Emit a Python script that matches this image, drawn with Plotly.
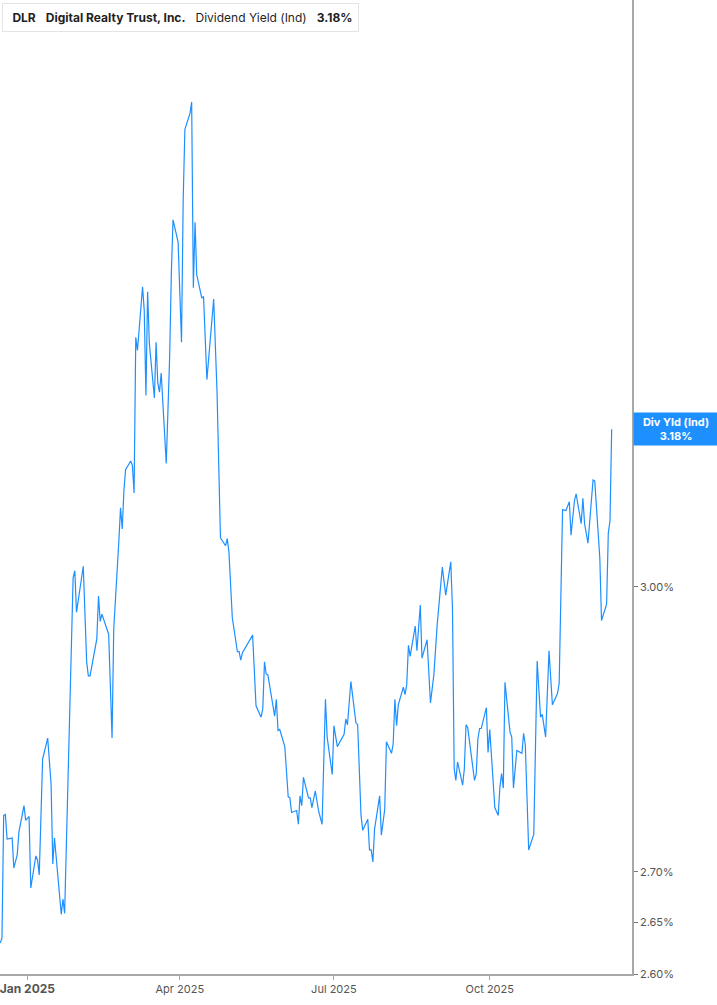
import math
import plotly.graph_objects as go

# DLR indicated dividend yield (%)
dates = [
    "2024-12-16", "2024-12-17", "2024-12-18", "2024-12-19", "2024-12-20", "2024-12-23",
    "2024-12-24", "2024-12-26", "2024-12-27", "2024-12-30", "2024-12-31", "2025-01-02",
    "2025-01-03", "2025-01-06", "2025-01-07", "2025-01-08", "2025-01-10", "2025-01-13",
    "2025-01-15", "2025-01-16", "2025-01-17", "2025-01-21", "2025-01-22", "2025-01-23",
    "2025-01-28", "2025-01-29", "2025-01-30", "2025-01-31", "2025-02-03", "2025-02-05",
    "2025-02-06", "2025-02-07", "2025-02-11", "2025-02-12", "2025-02-13", "2025-02-14",
    "2025-02-18", "2025-02-20", "2025-02-21", "2025-02-24", "2025-02-25", "2025-02-26",
    "2025-02-27", "2025-02-28", "2025-03-03", "2025-03-04", "2025-03-05", "2025-03-06",
    "2025-03-07", "2025-03-10", "2025-03-11", "2025-03-12", "2025-03-13", "2025-03-14",
    "2025-03-16", "2025-03-17", "2025-03-18", "2025-03-19", "2025-03-20", "2025-03-21",
    "2025-03-24", "2025-03-26", "2025-03-27", "2025-03-28", "2025-03-31", "2025-04-02",
    "2025-04-03", "2025-04-04", "2025-04-07", "2025-04-08", "2025-04-09", "2025-04-10",
    "2025-04-11", "2025-04-14", "2025-04-15", "2025-04-17", "2025-04-21", "2025-04-23",
    "2025-04-25", "2025-04-28", "2025-04-29", "2025-04-30", "2025-05-02", "2025-05-05",
    "2025-05-06", "2025-05-07", "2025-05-08", "2025-05-14", "2025-05-16", "2025-05-19",
    "2025-05-20", "2025-05-21", "2025-05-22", "2025-05-23", "2025-05-27", "2025-05-28",
    "2025-05-29", "2025-05-30", "2025-06-02", "2025-06-04", "2025-06-05", "2025-06-06",
    "2025-06-09", "2025-06-10", "2025-06-11", "2025-06-12", "2025-06-13", "2025-06-16",
    "2025-06-17", "2025-06-18", "2025-06-20", "2025-06-22", "2025-06-24", "2025-06-26",
    "2025-06-27", "2025-06-30", "2025-07-01", "2025-07-03", "2025-07-07", "2025-07-08",
    "2025-07-09", "2025-07-11", "2025-07-14", "2025-07-15", "2025-07-17", "2025-07-18",
    "2025-07-21", "2025-07-22", "2025-07-23", "2025-07-24", "2025-07-25", "2025-07-28",
    "2025-07-29", "2025-07-31", "2025-08-01", "2025-08-04", "2025-08-05", "2025-08-06",
    "2025-08-07", "2025-08-08", "2025-08-11", "2025-08-12", "2025-08-13", "2025-08-14",
    "2025-08-15", "2025-08-18", "2025-08-19", "2025-08-21", "2025-08-22", "2025-08-25",
    "2025-08-27", "2025-08-29", "2025-08-31", "2025-09-03", "2025-09-05", "2025-09-08",
    "2025-09-09", "2025-09-10", "2025-09-11", "2025-09-12", "2025-09-15", "2025-09-16",
    "2025-09-17", "2025-09-18", "2025-09-22", "2025-09-23", "2025-09-24", "2025-09-25",
    "2025-09-26", "2025-09-29", "2025-09-30", "2025-10-01", "2025-10-04", "2025-10-06",
    "2025-10-07", "2025-10-08", "2025-10-09", "2025-10-10", "2025-10-13", "2025-10-14",
    "2025-10-15", "2025-10-17", "2025-10-20", "2025-10-21", "2025-10-22", "2025-10-24",
    "2025-10-27", "2025-10-29", "2025-10-31", "2025-11-01", "2025-11-03", "2025-11-05",
    "2025-11-07", "2025-11-10", "2025-11-11", "2025-11-13", "2025-11-15", "2025-11-17",
    "2025-11-18", "2025-11-20", "2025-11-21", "2025-11-24", "2025-11-25", "2025-11-26",
    "2025-11-28", "2025-12-01", "2025-12-02", "2025-12-05", "2025-12-06", "2025-12-09",
    "2025-12-10", "2025-12-11", "2025-12-12",
]

div_yield = [
    2.630, 2.635, 2.757, 2.758, 2.733, 2.734, 2.704, 2.717, 2.740, 2.767, 2.752, 2.756,
    2.684, 2.716, 2.712, 2.697, 2.815, 2.837, 2.789, 2.708, 2.734, 2.658, 2.673, 2.659,
    3.010, 3.018, 2.972, 2.984, 3.023, 2.918, 2.903, 2.903, 2.943, 2.990, 2.962, 2.970,
    2.948, 2.837, 2.954, 3.051, 3.089, 3.065, 3.109, 3.133, 3.143, 3.138, 3.106, 3.290,
    3.274, 3.352, 3.323, 3.220, 3.346, 3.283, 3.242, 3.217, 3.284, 3.235, 3.224, 3.247,
    3.140, 3.266, 3.369, 3.436, 3.408, 3.284, 3.462, 3.553, 3.574, 3.589, 3.351, 3.433,
    3.367, 3.338, 3.340, 3.239, 3.337, 3.223, 3.055, 3.046, 3.054, 3.039, 2.966, 2.929,
    2.929, 2.920, 2.928, 2.947, 2.871, 2.859, 2.868, 2.918, 2.905, 2.904, 2.860, 2.878,
    2.845, 2.846, 2.828, 2.776, 2.775, 2.760, 2.762, 2.748, 2.777, 2.767, 2.796, 2.775,
    2.775, 2.765, 2.782, 2.761, 2.748, 2.878, 2.838, 2.799, 2.850, 2.828, 2.841, 2.857,
    2.851, 2.897, 2.853, 2.851, 2.757, 2.742, 2.753, 2.722, 2.722, 2.710, 2.743, 2.777,
    2.737, 2.763, 2.833, 2.821, 2.831, 2.878, 2.850, 2.872, 2.891, 2.883, 2.894, 2.936,
    2.924, 2.957, 2.930, 2.980, 2.922, 2.942, 2.874, 2.904, 2.959, 3.022, 2.991, 3.028,
    2.976, 2.805, 2.793, 2.812, 2.788, 2.805, 2.851, 2.848, 2.793, 2.799, 2.836, 2.847,
    2.847, 2.869, 2.822, 2.846, 2.765, 2.757, 2.786, 2.800, 2.785, 2.896, 2.843, 2.838,
    2.785, 2.824, 2.821, 2.842, 2.830, 2.722, 2.738, 2.919, 2.859, 2.862, 2.838, 2.930,
    2.872, 2.884, 2.895, 3.087, 3.086, 3.096, 3.058, 3.097, 3.105, 3.071, 3.100, 3.071,
    3.049, 3.121, 3.120, 3.032, 2.963, 2.981, 3.060, 3.074, 3.180,
]

tick_dates = ["2025-01-01", "2025-04-01", "2025-07-01", "2025-10-01"]
tick_names = ["<b><span style='font-size:12px'>Jan 2025</span></b>", "Apr 2025", "Jul 2025", "Oct 2025"]
y_ticks = [2.60, 2.65, 2.70, 3.00]
y_tick_names = ["2.60%", "2.65%", "2.70%", "3.00%"]

blue = "#1e8fff"
last = div_yield[-1]

fig = go.Figure()
fig.add_trace(go.Scatter(x=dates, y=div_yield, mode="lines",
                         line=dict(color=blue, width=1.2), hoverinfo="x+y"))

fig.update_layout(
    width=717, height=1005,
    margin=dict(l=0, r=85, t=0, b=31),
    plot_bgcolor="white", paper_bgcolor="white",
    showlegend=False,
    font=dict(family="Inter, Roboto, sans-serif", color="#555555", size=11),
)

fig.update_xaxes(
    range=["2024-12-15 20:00", "2025-12-24 00:00"],
    tickvals=tick_dates, ticktext=tick_names,
    ticklabeloverflow="allow", automargin=False,
    showgrid=False, zeroline=False,
    showline=True, linecolor="#a8a8a8", linewidth=2,
    ticks="outside", ticklen=4, tickcolor="#a8a8a8",
    tickfont=dict(size=11, color="#555555"),
)

fig.update_yaxes(
    type="log", side="right",
    range=[math.log10(2.60), math.log10(3.727)],
    tickvals=y_ticks, ticktext=y_tick_names,
    automargin=False,
    showgrid=False, zeroline=False,
    showline=True, linecolor="#a8a8a8", linewidth=1.5,
    ticks="outside", ticklen=4, tickcolor="#777777",
    tickfont=dict(size=11, color="#555555"),
)

# header box
sp = "\u00a0\u00a0\u00a0"
fig.add_annotation(
    xref="paper", yref="paper", x=0, y=1, xanchor="left", yanchor="top",
    xshift=2, yshift=-3,
    text="\u00a0<b>DLR</b>" + sp + "<b>Digital Realty Trust, Inc.</b>" + sp
         + "Dividend Yield (Ind)" + sp + "<b>3.18%</b>",
    showarrow=False, align="left",
    font=dict(size=12, color="#1f1f1f"),
    bgcolor="white", bordercolor="#e4e4e4", borderwidth=1, borderpad=6,
)
fig.add_shape(type="rect", xref="paper", yref="paper",
              x0=2 / 632, x1=5 / 632, y0=1 - 29 / 974, y1=1 - 5 / 974,
              fillcolor=blue, line=dict(width=0))

# last value label on the right axis
fig.add_annotation(
    xref="paper", yref="y", x=1, y=math.log10(last),
    xanchor="left", yanchor="middle", xshift=1,
    text="<b>Div Yld (Ind)</b><br><b>%.2f%%</b>" % last,
    showarrow=False, align="center",
    font=dict(size=11, color="white"),
    bgcolor=blue, borderpad=2, width=80,
)

fig.write_html("out.html", config={"displayModeBar": False},
               post_script="document.body.style.margin='0';")
